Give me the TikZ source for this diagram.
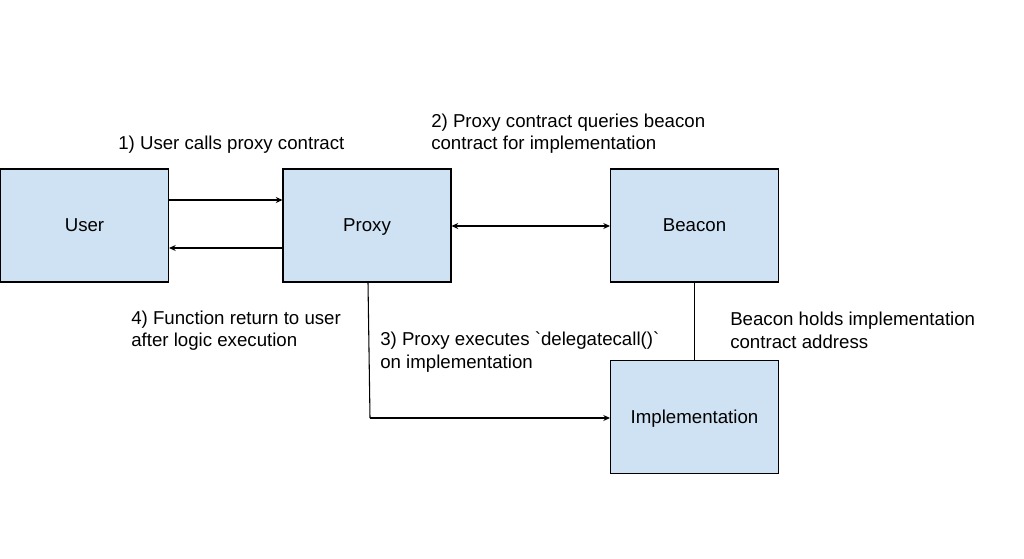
\documentclass[tikz,border=0pt]{standalone}
\usepackage{fontspec}
\setmainfont{Liberation Sans}
\usetikzlibrary{arrows.meta}
\definecolor{boxfill}{HTML}{CFE2F3}
\begin{document}
\begin{tikzpicture}[x=0.75pt,y=-0.75pt,
  box/.style={draw=black,line width=0.8pt,fill=boxfill,minimum width=126pt,minimum height=84.75pt,inner sep=0pt,text height=10pt,text depth=1pt,font=\fontsize{14}{16.9}\selectfont},
  lbl/.style={anchor=west,align=left,inner sep=0pt,font=\fontsize{14}{16.9}\selectfont},
  conn/.style={line width=0.8pt},
  arr/.style={conn,-{Stealth[length=5pt,width=4.5pt]}},
  darr/.style={conn,{Stealth[length=5pt,width=4.5pt]}-{Stealth[length=5pt,width=4.5pt]}}]
\useasboundingbox (0,0) rectangle (1024,559);
\fill[white] (0,0) rectangle (1024,559);
\node[box] (user) at (84.5,225.5) {User};
\node[box] (proxy) at (367,225.5) {Proxy};
\node[box] (beacon) at (694.5,225.5) {Beacon};
\node[box] (impl) at (694.5,417) {Implementation};
\coordinate (corner) at (370,418);
\draw[arr] (user.east |- 0,200) -- (proxy.west |- 0,200);
\draw[arr] (proxy.west |- 0,248) -- (user.east |- 0,248);
\draw[darr] (proxy.east |- 0,226) -- (beacon.west |- 0,226);
\draw[conn] (proxy.south -| 368,0) -- (corner);
\draw[arr] (corner) -- (impl.west |- corner);
\draw[conn] (beacon.south) -- (impl.north);
\node[lbl] (t1) at (118,144.5) {1) User calls proxy contract};
\node[lbl] (t2) at (431,133.5) {2) Proxy contract queries beacon\\contract for implementation};
\node[lbl] (t4) at (131,330.5) {4) Function return to user\\after logic execution};
\node[lbl] (t3) at (380,352) {3) Proxy executes \textasciigrave delegatecall()\textasciigrave\\on implementation};
\node[lbl] (t5) at (730,330.5) {Beacon holds implementation\\contract address};
\end{tikzpicture}
\end{document}
